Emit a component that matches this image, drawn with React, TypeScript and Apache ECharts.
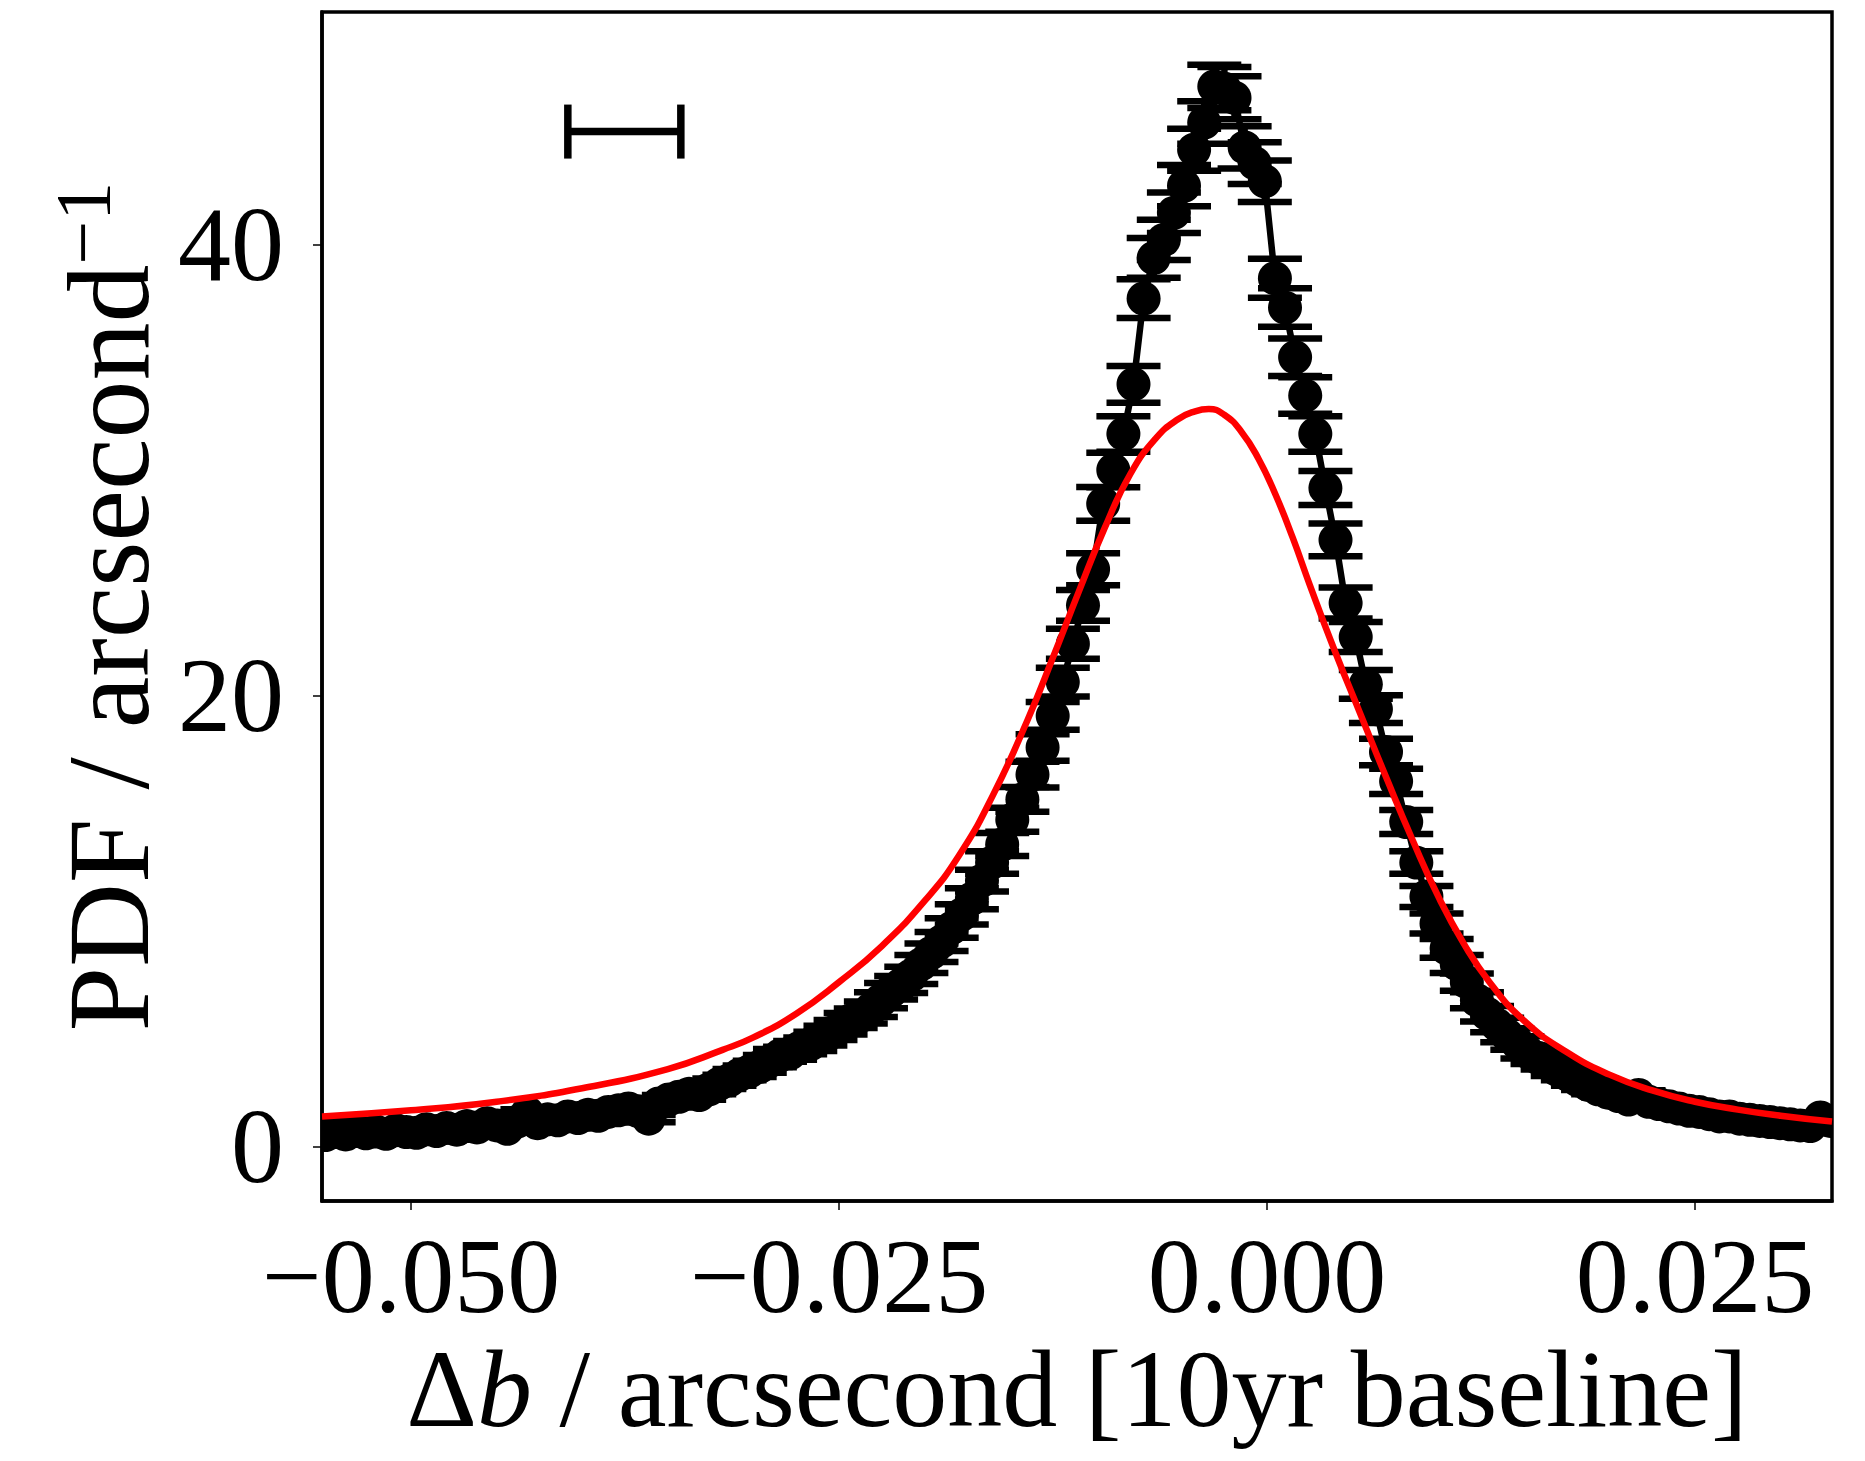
import React, { useEffect, useRef } from "react";
import * as echarts from "echarts";

// ---- axis ranges and ticks ----
const X_MIN = -0.0552;
const X_MAX = 0.033;
const Y_MIN = -2.4;
const Y_MAX = 50.3;
const X_TICKS = [-0.05, -0.025, 0, 0.025];
const Y_TICKS = [0, 20, 40];

// ---- histogram (black points with error bars) ----
const BIN_START = -0.055;
const BIN_WIDTH = 0.00059;
const PDF_VALUES = [
  0.52, 0.66, 0.55, 0.7, 0.6, 0.68, 0.58, 0.74, 0.66, 0.62,
  0.78, 0.7, 0.84, 0.76, 0.92, 0.86, 1.05, 0.95, 0.8, 1.12,
  1.5, 1.05, 1.22, 1.18, 1.35, 1.28, 1.42, 1.38, 1.55, 1.62,
  1.7, 1.58, 1.25, 1.92, 2.1, 2.22, 2.35, 2.3, 2.55, 2.8,
  2.95, 3.2, 3.35, 3.55, 3.8, 4.05, 4.15, 4.4, 4.55, 4.8,
  5.05, 5.3, 5.6, 5.8, 6.1, 6.5, 6.9, 7.2, 7.6, 8.1,
  8.6, 9.1, 9.7, 10.3, 11.0, 11.8, 12.6, 13.4, 14.5, 15.4,
  16.5, 17.7, 19.1, 20.6, 22.3, 24.0, 25.6, 28.5, 30.0, 31.6,
  33.8, 37.6, 39.4, 40.2, 41.4, 42.6, 44.2, 45.4, 47.0, 46.9,
  46.5, 44.3, 43.6, 42.8, 38.5, 37.2, 35.0, 33.3, 31.6, 29.2,
  26.9, 24.1, 22.6, 20.5, 19.4, 17.5, 16.2, 14.4, 12.6, 11.1,
  9.9, 8.8, 8.1, 7.3, 6.5, 5.9, 5.4, 4.95, 4.6, 4.2,
  3.95, 3.7, 3.4, 3.2, 2.95, 2.75, 2.55, 2.4, 2.25, 2.1,
  2.3, 2.0, 1.9, 1.8, 1.7, 1.6, 1.55, 1.45, 1.35, 1.35,
  1.25, 1.2, 1.15, 1.1, 1.05, 1.0, 0.95, 0.92, 1.3, 1.15,
];
// error bar half-length grows like sqrt of the PDF (Poisson), scale
const ERR_PER_SQRT_PDF = 0.14;

// ---- red model curve ----
const FIT_X = [
  -0.0552, -0.05, -0.045, -0.04, -0.035, -0.0318, -0.03, -0.0275, -0.025, -0.0225,
  -0.02, -0.018, -0.016, -0.014, -0.0125, -0.011, -0.0095, -0.008, -0.0065, -0.0052,
  -0.0042, -0.0034, -0.0025, -0.0015, -0.0005, 0.0005, 0.0015, 0.0025, 0.004, 0.0055,
  0.007, 0.0085, 0.01, 0.0115, 0.013, 0.015, 0.0175, 0.02, 0.0225, 0.025,
  0.0275, 0.03, 0.033,
];
const FIT_Y = [
  1.35, 1.62, 2.0, 2.6, 3.45, 4.3, 4.85, 5.9, 7.3, 8.9,
  10.9, 12.9, 15.6, 18.9, 21.7, 24.6, 27.4, 29.8, 31.4, 32.25,
  32.6, 32.7, 32.45, 31.7, 30.5, 28.9, 27.0, 24.9, 21.9, 19.1,
  16.3, 13.6, 11.1, 9.0, 7.3, 5.6, 4.2, 3.2, 2.5, 2.0,
  1.65, 1.38, 1.12,
];

// ---- the lone horizontal error bar in the upper left ----
const SCALE_BAR_X = -0.03754;
const SCALE_BAR_HALF = 0.0033;
const SCALE_BAR_Y = 45.0;

const FONT = "Liberation Serif";
const LINE_W = 6.5;
const CAP_HALF = 27;
const MARKER_R = 17;

export default function App() {
  const ref = useRef<HTMLDivElement>(null);

  useEffect(() => {
    document.body.style.margin = "0";
    if (!ref.current) return;
    const chart = echarts.init(ref.current, null, { renderer: "svg" });

    const points = PDF_VALUES.map((v, i) => [
      BIN_START + BIN_WIDTH * i,
      v,
      ERR_PER_SQRT_PDF * Math.sqrt(v),
    ]);
    const fit = FIT_X.map((x, i) => [x, FIT_Y[i]]);

    const fmtX = (v: number) => {
      const s = Math.abs(v).toFixed(3);
      return v < -1e-9 ? "\u2212" + s : s;
    };

    const option: any = {
      animation: false,
      backgroundColor: "#ffffff",
      grid: {
        left: 322,
        right: 33,
        top: 12,
        bottom: 260,
        show: true,
        borderColor: "#000",
        borderWidth: 3.5,
        backgroundColor: "transparent",
      },
      xAxis: {
        type: "value",
        min: X_MIN,
        max: X_MAX,
        splitLine: { show: false },
        axisLine: { show: true, onZero: false, lineStyle: { color: "#000", width: 3.5 } },
        axisTick: {
          show: true,
          inside: false,
          length: 9,
          customValues: X_TICKS,
          lineStyle: { color: "#000", width: 1.5 },
        },
        axisLabel: {
          customValues: X_TICKS,
          formatter: fmtX,
          fontFamily: FONT,
          fontSize: 106,
          color: "#000",
          margin: 22,
        },
        name: "{r|\u0394}{i|b}{r| / arcsecond [10yr baseline]}",
        nameLocation: "middle",
        nameGap: 132,
        nameTextStyle: {
          fontFamily: FONT,
          fontSize: 110,
          color: "#000",
          rich: {
            r: { fontFamily: FONT, fontSize: 110, color: "#000" },
            i: { fontFamily: FONT, fontSize: 110, fontStyle: "italic", color: "#000" },
          },
        },
      },
      yAxis: {
        type: "value",
        min: Y_MIN,
        max: Y_MAX,
        splitLine: { show: false },
        axisLine: { show: true, onZero: false, lineStyle: { color: "#000", width: 3.5 } },
        axisTick: {
          show: true,
          inside: false,
          length: 9,
          customValues: Y_TICKS,
          lineStyle: { color: "#000", width: 1.5 },
        },
        axisLabel: {
          customValues: Y_TICKS,
          formatter: (v: number) => String(v),
          fontFamily: FONT,
          fontSize: 106,
          color: "#000",
          margin: 38,
        },
        name: "{r|PDF / arcsecond}{s|\u22121}",
        nameLocation: "middle",
        nameGap: 154,
        nameTextStyle: {
          fontFamily: FONT,
          fontSize: 116,
          color: "#000",
          rich: {
            r: { fontFamily: FONT, fontSize: 116, color: "#000", lineHeight: 124, verticalAlign: "bottom" },
            s: { fontFamily: FONT, fontSize: 78, color: "#000", lineHeight: 124, verticalAlign: "top" },
          },
        },
      },
      series: [
        {
          type: "line",
          data: points.map((p) => [p[0], p[1]]),
          showSymbol: false,
          symbol: "none",
          clip: true,
          lineStyle: { color: "#000", width: LINE_W },
          z: 1,
        },
        {
          type: "custom",
          clip: true,
          data: points,
          encode: { x: 0, y: 1 },
          z: 2,
          renderItem: (_params: any, api: any) => {
            const x = api.value(0);
            const y = api.value(1);
            const e = api.value(2);
            const top = api.coord([x, y + e]);
            const bot = api.coord([x, y - e]);
            const style = { stroke: "#000", lineWidth: LINE_W, fill: null };
            return {
              type: "group",
              children: [
                { type: "line", shape: { x1: top[0], y1: top[1], x2: bot[0], y2: bot[1] }, style },
                { type: "line", shape: { x1: top[0] - CAP_HALF, y1: top[1], x2: top[0] + CAP_HALF, y2: top[1] }, style },
                { type: "line", shape: { x1: bot[0] - CAP_HALF, y1: bot[1], x2: bot[0] + CAP_HALF, y2: bot[1] }, style },
              ],
            };
          },
        },
        {
          type: "custom",
          clip: true,
          data: points,
          encode: { x: 0, y: 1 },
          z: 3,
          renderItem: (_params: any, api: any) => {
            const c = api.coord([api.value(0), api.value(1)]);
            return {
              type: "circle",
              shape: { cx: c[0], cy: c[1], r: MARKER_R },
              style: { fill: "#000", stroke: null },
            };
          },
        },
        {
          type: "line",
          data: fit,
          smooth: 0.5,
          showSymbol: false,
          symbol: "none",
          clip: true,
          lineStyle: { color: "#ff0000", width: 6.5 },
          z: 4,
        },
        {
          type: "custom",
          data: [[SCALE_BAR_X, SCALE_BAR_Y, SCALE_BAR_HALF]],
          encode: { x: 0, y: 1 },
          z: 5,
          renderItem: (_params: any, api: any) => {
            const x = api.value(0);
            const y = api.value(1);
            const h = api.value(2);
            const l = api.coord([x - h, y]);
            const r = api.coord([x + h, y]);
            const style = { stroke: "#000", lineWidth: LINE_W + 1, fill: null };
            return {
              type: "group",
              children: [
                { type: "line", shape: { x1: l[0], y1: l[1], x2: r[0], y2: r[1] }, style },
                { type: "line", shape: { x1: l[0], y1: l[1] - CAP_HALF, x2: l[0], y2: l[1] + CAP_HALF }, style },
                { type: "line", shape: { x1: r[0], y1: r[1] - CAP_HALF, x2: r[0], y2: r[1] + CAP_HALF }, style },
              ],
            };
          },
        },
      ],
    };

    chart.setOption(option);
    return () => chart.dispose();
  }, []);

  return <div ref={ref} style={{ width: 1865, height: 1461 }} />;
}
